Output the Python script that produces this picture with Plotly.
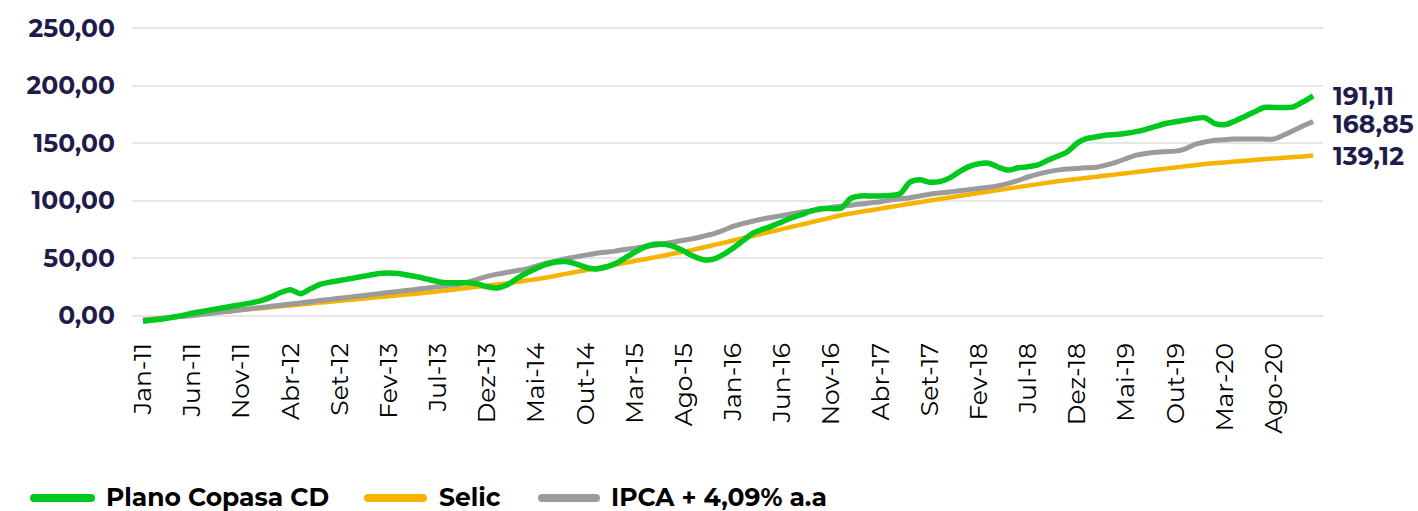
import plotly.graph_objects as go

# ---- data ----
month_names = ["Jan", "Fev", "Mar", "Abr", "Mai", "Jun", "Jul", "Ago", "Set", "Out", "Nov", "Dez"]
months = [f"{month_names[i % 12]}-{11 + i // 12}" for i in range(120)]

plano = [
    -5, -4, -3, -1.5, 0, 2, 3.5, 5, 6.5, 8, 9.5, 11,
    13, 16, 20, 22.5, 19, 23, 27, 29, 30.5, 32, 33.5, 35,
    36.5, 37, 36.5, 35, 33.5, 31.5, 29.5, 28.5, 28.5, 28.5, 27.5, 25,
    24, 26.5, 32, 37, 41, 44.5, 46.5, 47, 45, 42, 40.5, 42,
    45, 50, 55, 59.5, 62, 62, 60, 56, 51.5, 48.5, 49, 53,
    58.5, 65, 71.5, 75, 78, 81.5, 85, 88, 91, 93, 93, 93.5,
    102, 104, 104, 104, 104.5, 106, 116, 118, 116, 116.5, 119.5, 125,
    129.5, 132, 132.5, 129, 126.5, 128.5, 129.5, 131, 135, 138.5, 142.5, 150,
    154, 155.5, 157, 157.5, 158.5, 160, 162, 164.5, 167, 168.5, 170, 171.5,
    172, 167, 166, 169, 173, 177, 181, 181, 181, 181.5, 186, 191.11,
]

selic = [
    -4, -3.1, -2.3, -1.4, -0.6, 0.3, 1.2, 2.1, 3.0, 3.8, 4.7, 5.6,
    6.4, 7.2, 8.0, 8.8, 9.6, 10.4, 11.2, 12.0, 12.8, 13.6, 14.4, 15.2,
    16.0, 16.8, 17.6, 18.4, 19.2, 20.1, 21.0, 22.0, 23.0, 24.0, 25.0, 26.0,
    27.0, 28.0, 29.2, 30.4, 31.6, 33.0, 34.6, 36.2, 37.8, 39.4, 41.0, 42.6,
    44.2, 45.8, 47.4, 49.0, 50.6, 52.2, 53.9, 55.6, 57.3, 59.2, 61.2, 63.2,
    65.2, 67.2, 69.2, 71.2, 73.2, 75.2, 77.2, 79.2, 81.2, 83.2, 85.2, 87.2,
    88.8, 90.2, 91.6, 93.0, 94.4, 95.8, 97.2, 98.6, 100.0, 101.3, 102.6, 103.9,
    105.2, 106.5, 107.8, 109.1, 110.4, 111.7, 113.0, 114.3, 115.6, 116.8, 117.8, 118.8,
    119.8, 120.8, 121.8, 122.8, 123.8, 124.8, 125.8, 126.8, 127.8, 128.8, 129.8, 130.8,
    131.8, 132.5, 133.2, 133.9, 134.6, 135.3, 136.0, 136.6, 137.2, 137.8, 138.4, 139.12,
]

ipca = [
    -4, -3.2, -2.4, -1.6, -0.8, 0, 1, 2, 3, 4, 5, 6,
    7, 8, 9, 10, 11, 12, 13, 14, 15, 16, 17, 18,
    19, 20, 21, 22, 23, 24, 25, 26, 27, 29, 31.5, 34,
    36, 37.5, 39, 40.5, 43, 45.5, 47.5, 49.5, 51, 52.5, 54, 55,
    56, 57.5, 58.5, 59.8, 61, 62.5, 64, 65.5, 67, 69, 71, 74,
    77.5, 80, 82, 84, 85.5, 87, 88.5, 90, 91, 92.5, 94, 95,
    96, 97, 98, 99, 100.5, 101.5, 102.5, 104, 105.5, 106.5, 107.5, 108.5,
    109.5, 110.5, 111.5, 113, 115, 117.5, 120.5, 123, 125, 126.5, 127.5, 128,
    128.5, 129, 131, 133.5, 136.5, 139.5, 141, 142, 142.5, 143, 145, 149,
    151, 152.5, 153, 153.5, 153.5, 153.5, 153.5, 153.5, 157, 161, 165, 168.85,
]

series_names = ["Plano Copasa CD", "Selic", "IPCA + 4,09% a.a"]
end_labels = ["191,11", "168,85", "139,12"]
y_ticks = [0, 50, 100, 150, 200, 250]
x_tick_idx = list(range(0, 120, 5))

# ---- style ----
GREEN = "#00c81e"
ORANGE = "#f6b400"
GREY = "#9b9b9b"
NAVY = "#1f1c4a"
FONT = "Montserrat, Open Sans, sans-serif"

x = list(range(len(months)))
fig = go.Figure()
fig.add_trace(go.Scatter(x=x, y=selic, name=series_names[1], mode="lines",
                         line=dict(color=ORANGE, width=4.5, shape="spline", smoothing=0.6)))
fig.add_trace(go.Scatter(x=x, y=ipca, name=series_names[2], mode="lines",
                         line=dict(color=GREY, width=5, shape="spline", smoothing=0.6)))
fig.add_trace(go.Scatter(x=x, y=plano, name=series_names[0], mode="lines",
                         line=dict(color=GREEN, width=5.5, shape="spline", smoothing=0.8)))

# end labels
ends = [(plano[-1], end_labels[0], 0), (ipca[-1], end_labels[1], -3), (selic[-1], end_labels[2], 0)]
for yv, txt, ys in ends:
    fig.add_annotation(x=x[-1], y=yv, text=txt, showarrow=False, xanchor="left",
                       xshift=18, yshift=ys,
                       font=dict(family=FONT, size=25, color=NAVY, weight="bold"))

# custom legend (pixel -> paper)
L, R, T, B = 132, 95, 26.5, 183.5
W, H = 1418, 511
pw, ph = W - L - R, H - T - B
def px(xp):
    return (xp - L) / pw
def py(yp):
    return (H - B - yp) / ph

leg_y = 498
items = [(30, 95, 106, series_names[0], GREEN),
         (364, 427, 439, series_names[1], ORANGE),
         (538, 600, 611, series_names[2], GREY)]
for x0, x1, tx, name, col in items:
    fig.add_shape(type="line", xref="paper", yref="paper", x0=px(x0 + 4), x1=px(x1 - 4),
                  y0=py(leg_y + 1), y1=py(leg_y + 1), line=dict(color=col, width=8))
    for cx in (x0 + 4, x1 - 4):
        fig.add_shape(type="circle", xref="paper", yref="paper",
                      x0=px(cx - 4), x1=px(cx + 4), y0=py(leg_y + 1 - 4), y1=py(leg_y + 1 + 4),
                      fillcolor=col, line=dict(width=0))
    fig.add_annotation(xref="paper", yref="paper", x=px(tx - 2), y=py(leg_y), text=name,
                       showarrow=False, xanchor="left", yanchor="middle",
                       font=dict(family=FONT, size=25, color="#000000", weight="bold"))

fig.update_layout(
    width=W, height=H,
    margin=dict(l=L, r=R, t=T, b=B),
    paper_bgcolor="white", plot_bgcolor="white",
    showlegend=False,
    separators=",.",
    font=dict(family=FONT),
)
fig.update_xaxes(range=[-1.12, 120.0], tickmode="array", tickvals=x_tick_idx,
                 ticktext=[months[i] for i in x_tick_idx], tickangle=-90,
                 showgrid=False, zeroline=False, showline=False, ticks="",
                 ticklabelstandoff=10,
                 tickfont=dict(family=FONT, size=25, color="#000000"))
fig.update_yaxes(range=[-10, 251], tickmode="array", tickvals=y_ticks, tickformat=".2f",
                 showgrid=True, gridcolor="#e6e6e6", gridwidth=1.5, zeroline=False,
                 showline=False, ticks="", ticklabelstandoff=16,
                 tickfont=dict(family=FONT, size=25, color=NAVY, weight="bold"))

fig.write_html("out.html", config={"displayModeBar": False},
               post_script="document.body.style.margin='0';document.body.style.padding='0';")
